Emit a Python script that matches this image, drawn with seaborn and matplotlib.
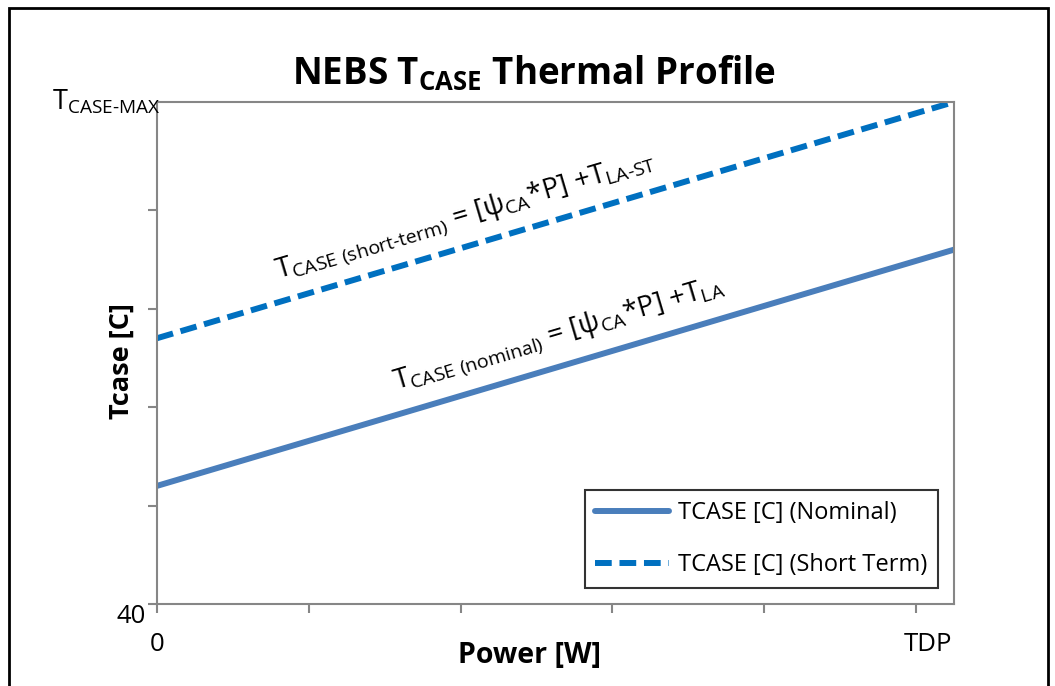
import matplotlib
matplotlib.use("Agg")
import matplotlib.pyplot as plt
import seaborn as sns
import pandas as pd
from matplotlib.patches import Rectangle
from matplotlib.transforms import ScaledTranslation

# ---- data ----
power = [0.0, 5.25]                 # x in tick units (TDP at 5)
tcase_nominal = [52.0, 76.0]
tcase_short = [67.0, 91.0]
series_names = ["TCASE [C] (Nominal)", "TCASE [C] (Short Term)"]
x_ticks = [0, 1, 2, 3, 4, 5]
x_ticklabels = ["0", "", "", "", "", "TDP"]
y_ticks = [40, 50, 60, 70, 80]
y_ticklabels = ["40", "", "", "", ""]
y_max = 91.0

sns.set_theme(style="white")
plt.rcParams["font.family"] = ["Open Sans", "DejaVu Sans"]
plt.rcParams["mathtext.fontset"] = "custom"
plt.rcParams["mathtext.rm"] = "Open Sans"
plt.rcParams["mathtext.bf"] = "Open Sans:bold"
plt.rcParams["mathtext.it"] = "Open Sans:italic"
for k in ["text.color", "axes.labelcolor", "xtick.labelcolor", "ytick.labelcolor"]:
    plt.rcParams[k] = "black"

df = pd.DataFrame({
    "Power": power * 2,
    "Tcase": tcase_nominal + tcase_short,
    "Series": [series_names[0]] * 2 + [series_names[1]] * 2,
})

fig = plt.figure(figsize=(10.55, 6.86), dpi=100)
ax = fig.add_axes([157 / 1055, 1 - 604 / 686, (954 - 157) / 1055, (604 - 102) / 686])

palette = {series_names[0]: "#4A7EBB", series_names[1]: "#0070C0"}
sns.lineplot(data=df, x="Power", y="Tcase", hue="Series", style="Series",
             palette=palette, dashes={series_names[0]: "", series_names[1]: (2.8, 1.3)},
             linewidth=4.3, ax=ax, legend=True)

ax.set_xlim(power[0], power[-1])
ax.set_ylim(40, y_max)

gray = "#868686"
for s in ["left", "right", "top", "bottom"]:
    ax.spines[s].set_visible(True)
    ax.spines[s].set_color(gray)
    ax.spines[s].set_linewidth(1.5)

ax.set_xticks(x_ticks)
ax.set_xticklabels(x_ticklabels, fontsize=18.5)
ax.set_yticks(y_ticks)
ax.set_yticklabels(y_ticklabels, fontsize=18.5, va="top")
ax.tick_params(axis="both", which="major", direction="out", length=6.5, width=1.5,
               color=gray, left=True, bottom=True, labelcolor="black")
ax.tick_params(axis="x", pad=14)
ax.tick_params(axis="y", pad=1.5)
ax.grid(False)
# nudge the TDP label right like the reference
tdp_lbl = ax.get_xticklabels()[-1]
tdp_lbl.set_transform(tdp_lbl.get_transform() + ScaledTranslation(12 / 100, 0, fig.dpi_scale_trans))

# T_CASE-MAX label at top of y axis
ax.text(0.004, y_max, r"T$_{\mathrm{CASE\text{-}MAX}}$", transform=ax.get_yaxis_transform(),
        ha="right", va="center", fontsize=19.5, color="black")

ax.set_xlabel("Power [W]", fontsize=20.5, fontweight="bold")
ax.xaxis.set_label_coords((529 - 157) / 797, -(655 - 604) / 502)
ax.xaxis.label.set_va("center")
ax.set_ylabel("Tcase [C]", fontsize=19.5, fontweight="bold")
ax.yaxis.set_label_coords(-(157 - 122) / 797, (604 - 361) / 502)
ax.yaxis.label.set_va("center")

fig.suptitle(r"NEBS T$_{\mathbf{CASE}}$ Thermal Profile", fontsize=26.5, fontweight="bold",
             x=534 / 1055, y=1 - 73 / 686, va="center")

# line annotations
ax.text(2.035, 79.4, r"T$_{\mathrm{CASE\ (short\text{-}term)}}$ = [ψ$_{\mathrm{CA}}$*P] +T$_{\mathrm{LA\text{-}ST}}$",
        rotation=16.5, ha="center", va="center", fontsize=20, rotation_mode="anchor")
ax.text(2.65, 67.4, r"T$_{\mathrm{CASE\ (nominal)}}$ = [ψ$_{\mathrm{CA}}$*P] +T$_{\mathrm{LA}}$",
        rotation=16.5, ha="center", va="center", fontsize=20, rotation_mode="anchor")

leg = ax.legend(loc="lower right", bbox_to_anchor=(938 / 1055, 1 - 588 / 686),
                bbox_transform=fig.transFigure, fontsize=17, frameon=True, fancybox=False,
                handlelength=3.1, labelspacing=1.2, borderpad=0.45, handletextpad=0.4,
                borderaxespad=0, title=None)
leg.get_frame().set_edgecolor("black")
leg.get_frame().set_linewidth(1.5)
for h in leg.get_lines():
    h.set_linewidth(4.3)

fig.add_artist(Rectangle((9 / 1055, -0.05), (1048 - 9) / 1055, 1.05 - 8 / 686,
                         transform=fig.transFigure, fill=False, edgecolor="black", linewidth=2))

fig.savefig("out.png", dpi=100)
